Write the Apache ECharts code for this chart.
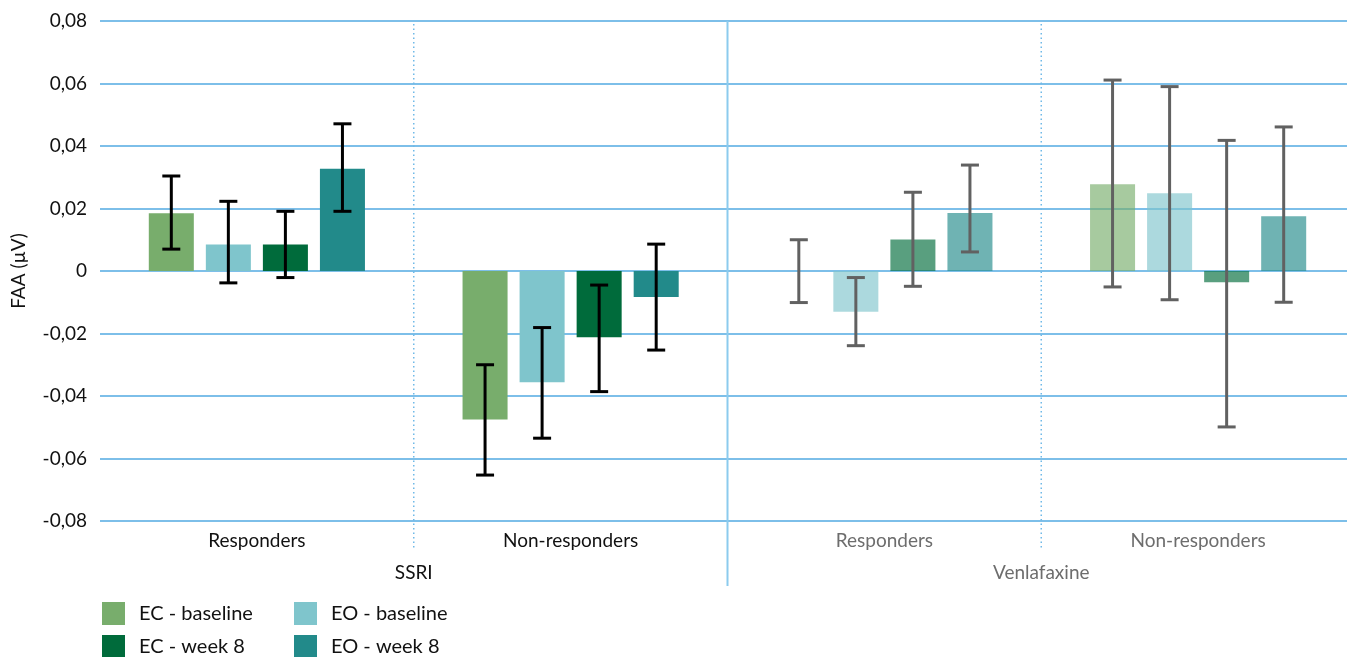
<!DOCTYPE html>
<html>
<head>
<meta charset="utf-8">
<script src="https://cdn.jsdelivr.net/npm/echarts@6/dist/echarts.min.js"></script>
<style>
html,body{margin:0;padding:0;background:#fff;}
#c{width:1347px;height:657px;}
</style>
</head>
<body>
<div id="c"></div>
<script>
// ---- data ----
const categories = ['Responders', 'Non-responders', 'Responders', 'Non-responders'];
const groups = ['SSRI', 'Venlafaxine'];
const seriesNames = ['EC - baseline', 'EO - baseline', 'EC - week 8', 'EO - week 8'];

const ecBaseline     = [0.0185, -0.0475,  0.0000,  0.0278];
const ecBaselineLow  = [0.0070, -0.0653, -0.0101, -0.0051];
const ecBaselineHigh = [0.0304, -0.0300,  0.0100,  0.0611];

const eoBaseline     = [0.0085, -0.0356, -0.0130,  0.0249];
const eoBaselineLow  = [-0.0038, -0.0535, -0.0239, -0.0092];
const eoBaselineHigh = [0.0223, -0.0181, -0.0021,  0.0590];

const ecWeek8     = [0.0085, -0.0212,  0.0101, -0.0036];
const ecWeek8Low  = [-0.0021, -0.0386, -0.0049, -0.0499];
const ecWeek8High = [0.0191, -0.0045,  0.0252,  0.0418];

const eoWeek8     = [0.0327, -0.0083,  0.0186,  0.0175];
const eoWeek8Low  = [0.0191, -0.0253,  0.0061, -0.0100];
const eoWeek8High = [0.0471,  0.0086,  0.0339,  0.0461];

// ---- styles ----
const colors = ['#78ad6c', '#7fc5cc', '#006b3b', '#228a8a'];
const FONT = 'Lato, "DejaVu Sans", sans-serif';
const BAR_FRAC = 0.1435;
const BAR_GAP = 0.267;

const values = [ecBaseline, eoBaseline, ecWeek8, eoWeek8];
const lows = [ecBaselineLow, eoBaselineLow, ecWeek8Low, eoWeek8Low];
const highs = [ecBaselineHigh, eoBaselineHigh, ecWeek8High, eoWeek8High];

const chart = echarts.init(document.getElementById('c'), null, {renderer: 'canvas'});

const series = [];
values.forEach((vals, k) => {
  series.push({
    name: seriesNames[k],
    type: 'bar',
    xAxisIndex: 0,
    barWidth: (BAR_FRAC * 100) + '%',
    barGap: (BAR_GAP * 100) + '%',
    itemStyle: {color: colors[k]},
    data: vals.map((v, i) => ({value: v, itemStyle: {opacity: i >= 2 ? 0.65 : 1}})),
    z: 2
  });
});
values.forEach((vals, k) => {
  series.push({
    name: seriesNames[k] + ' error',
    type: 'custom',
    xAxisIndex: 0,
    z: 5,
    data: categories.map((c, i) => [i, lows[k][i], highs[k][i]]),
    renderItem: function (params, api) {
      const i = api.value(0);
      const lo = api.coord([i, api.value(1)]);
      const hi = api.coord([i, api.value(2)]);
      const band = api.size([1, 0])[0];
      const bw = band * BAR_FRAC;
      const step = bw * (1 + BAR_GAP);
      const x = lo[0] + (k - 1.5) * step;
      const cap = 9;
      const stroke = i >= 2 ? '#616161' : '#000000';
      const st = {stroke: stroke, lineWidth: 3};
      return {
        type: 'group',
        children: [
          {type: 'line', shape: {x1: x, y1: hi[1], x2: x, y2: lo[1]}, style: st},
          {type: 'line', shape: {x1: x - cap, y1: hi[1], x2: x + cap, y2: hi[1]}, style: st},
          {type: 'line', shape: {x1: x - cap, y1: lo[1], x2: x + cap, y2: lo[1]}, style: st}
        ]
      };
    }
  });
});

function legendItem(name, left, top) {
  return {
    data: [name],
    orient: 'horizontal', left: left, top: top, padding: 0,
    itemWidth: 23, itemHeight: 23, icon: 'rect',
    textStyle: {fontSize: 20, color: '#111', fontFamily: FONT, padding: [0, 0, 0, 9]}
  };
}

const option = {
  animation: false,
  color: colors,
  textStyle: {fontFamily: FONT},
  grid: {left: 100, right: -8, top: 21, bottom: 136, containLabel: false, outerBoundsMode: 'none'},
  legend: [
    legendItem(seriesNames[0], 102, 602),
    legendItem(seriesNames[2], 102, 635),
    legendItem(seriesNames[1], 294, 602),
    legendItem(seriesNames[3], 294, 635)
  ],
  xAxis: [
    {
      type: 'category',
      data: categories,
      position: 'bottom',
      axisLine: {show: false},
      axisTick: {show: false},
      splitLine: {show: false},
      axisLabel: {
        margin: 10, fontSize: 19, fontFamily: FONT, interval: 0,
        color: function (v, i) { return i >= 2 ? '#6d6d6d' : '#111111'; }
      }
    },
    {
      type: 'category',
      data: groups,
      position: 'bottom',
      gridIndex: 0,
      axisLine: {show: false},
      axisTick: {show: false},
      splitLine: {show: false},
      axisLabel: {
        margin: 42, fontSize: 19, fontFamily: FONT, interval: 0,
        color: function (v, i) { return i >= 1 ? '#6d6d6d' : '#111111'; }
      }
    }
  ],
  yAxis: {
    type: 'value',
    min: -0.08, max: 0.08, interval: 0.02,
    name: 'FAA (µV)',
    nameLocation: 'middle',
    nameGap: 72,
    nameTextStyle: {fontSize: 19, color: '#111', fontFamily: FONT},
    axisLine: {show: false},
    axisTick: {show: false},
    splitLine: {lineStyle: {color: '#7dbfe9', width: 2}},
    axisLabel: {
      margin: 13, fontSize: 19, color: '#111', fontFamily: FONT,
      formatter: function (v) {
        if (Math.abs(v) < 1e-9) return '0';
        return v.toFixed(2).replace('.', ',');
      }
    }
  },
  series: series
};
chart.setOption(option);

// separators between categories, placed through the library's scales
const px = (i) => chart.convertToPixel({xAxisIndex: 0}, i);
const yTop = chart.convertToPixel({yAxisIndex: 0}, 0.08);
const yBot = chart.convertToPixel({yAxisIndex: 0}, -0.08);
const b01 = (px(0) + px(1)) / 2;
const b12 = (px(1) + px(2)) / 2;
const b23 = (px(2) + px(3)) / 2;
chart.setOption({
  graphic: [
    {type: 'line', z: 1, shape: {x1: b01, y1: yTop + 3, x2: b01, y2: yBot + 27},
     style: {stroke: '#6fb9e8', lineWidth: 1.5, lineDash: [1.5, 3]}},
    {type: 'line', z: 1, shape: {x1: b23, y1: yTop + 3, x2: b23, y2: yBot + 27},
     style: {stroke: '#6fb9e8', lineWidth: 1.5, lineDash: [1.5, 3]}},
    {type: 'line', z: 1, shape: {x1: b12, y1: yTop, x2: b12, y2: yBot + 65},
     style: {stroke: '#8ccbee', lineWidth: 2}}
  ]
});
</script>
</body>
</html>
